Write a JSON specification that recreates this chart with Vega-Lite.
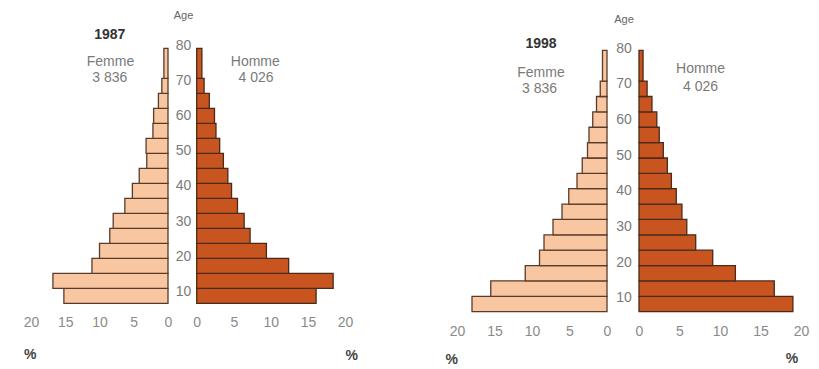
{
  "$schema": "https://vega.github.io/schema/vega-lite/v6.json",
  "width": 819,
  "height": 369,
  "padding": 0,
  "autosize": {"type": "none"},
  "background": "white",
  "config": {
    "view": {"stroke": null},
    "text": {"font": "Liberation Sans"},
    "axis": {"labelFont": "Liberation Sans", "grid": false}
  },
  "datasets": {
    "bars": [
      {"year": 1987, "sex": "Femme", "age_start": 0, "age_end": 5, "pct": 15.2},
      {"year": 1987, "sex": "Femme", "age_start": 5, "age_end": 10, "pct": 16.8},
      {"year": 1987, "sex": "Femme", "age_start": 10, "age_end": 15, "pct": 11.1},
      {"year": 1987, "sex": "Femme", "age_start": 15, "age_end": 20, "pct": 10.0},
      {"year": 1987, "sex": "Femme", "age_start": 20, "age_end": 25, "pct": 8.5},
      {"year": 1987, "sex": "Femme", "age_start": 25, "age_end": 30, "pct": 8.0},
      {"year": 1987, "sex": "Femme", "age_start": 30, "age_end": 35, "pct": 6.3},
      {"year": 1987, "sex": "Femme", "age_start": 35, "age_end": 40, "pct": 5.2},
      {"year": 1987, "sex": "Femme", "age_start": 40, "age_end": 45, "pct": 4.2},
      {"year": 1987, "sex": "Femme", "age_start": 45, "age_end": 50, "pct": 3.1},
      {"year": 1987, "sex": "Femme", "age_start": 50, "age_end": 55, "pct": 3.2},
      {"year": 1987, "sex": "Femme", "age_start": 55, "age_end": 60, "pct": 2.2},
      {"year": 1987, "sex": "Femme", "age_start": 60, "age_end": 65, "pct": 2.1},
      {"year": 1987, "sex": "Femme", "age_start": 65, "age_end": 70, "pct": 1.4},
      {"year": 1987, "sex": "Femme", "age_start": 70, "age_end": 75, "pct": 0.9},
      {"year": 1987, "sex": "Femme", "age_start": 75, "age_end": 85, "pct": 0.6},
      {"year": 1987, "sex": "Homme", "age_start": 0, "age_end": 5, "pct": 16.1},
      {"year": 1987, "sex": "Homme", "age_start": 5, "age_end": 10, "pct": 18.4},
      {"year": 1987, "sex": "Homme", "age_start": 10, "age_end": 15, "pct": 12.4},
      {"year": 1987, "sex": "Homme", "age_start": 15, "age_end": 20, "pct": 9.4},
      {"year": 1987, "sex": "Homme", "age_start": 20, "age_end": 25, "pct": 7.2},
      {"year": 1987, "sex": "Homme", "age_start": 25, "age_end": 30, "pct": 6.4},
      {"year": 1987, "sex": "Homme", "age_start": 30, "age_end": 35, "pct": 5.5},
      {"year": 1987, "sex": "Homme", "age_start": 35, "age_end": 40, "pct": 4.7},
      {"year": 1987, "sex": "Homme", "age_start": 40, "age_end": 45, "pct": 4.2},
      {"year": 1987, "sex": "Homme", "age_start": 45, "age_end": 50, "pct": 3.6},
      {"year": 1987, "sex": "Homme", "age_start": 50, "age_end": 55, "pct": 3.1},
      {"year": 1987, "sex": "Homme", "age_start": 55, "age_end": 60, "pct": 2.6},
      {"year": 1987, "sex": "Homme", "age_start": 60, "age_end": 65, "pct": 2.4},
      {"year": 1987, "sex": "Homme", "age_start": 65, "age_end": 70, "pct": 1.7},
      {"year": 1987, "sex": "Homme", "age_start": 70, "age_end": 75, "pct": 1.0},
      {"year": 1987, "sex": "Homme", "age_start": 75, "age_end": 85, "pct": 0.7},
      {"year": 1998, "sex": "Femme", "age_start": 0, "age_end": 5, "pct": 18.0},
      {"year": 1998, "sex": "Femme", "age_start": 5, "age_end": 10, "pct": 15.5},
      {"year": 1998, "sex": "Femme", "age_start": 10, "age_end": 15, "pct": 10.9},
      {"year": 1998, "sex": "Femme", "age_start": 15, "age_end": 20, "pct": 9.0},
      {"year": 1998, "sex": "Femme", "age_start": 20, "age_end": 25, "pct": 8.4},
      {"year": 1998, "sex": "Femme", "age_start": 25, "age_end": 30, "pct": 7.2},
      {"year": 1998, "sex": "Femme", "age_start": 30, "age_end": 35, "pct": 6.0},
      {"year": 1998, "sex": "Femme", "age_start": 35, "age_end": 40, "pct": 5.1},
      {"year": 1998, "sex": "Femme", "age_start": 40, "age_end": 45, "pct": 4.0},
      {"year": 1998, "sex": "Femme", "age_start": 45, "age_end": 50, "pct": 3.3},
      {"year": 1998, "sex": "Femme", "age_start": 50, "age_end": 55, "pct": 2.6},
      {"year": 1998, "sex": "Femme", "age_start": 55, "age_end": 60, "pct": 2.4},
      {"year": 1998, "sex": "Femme", "age_start": 60, "age_end": 65, "pct": 1.9},
      {"year": 1998, "sex": "Femme", "age_start": 65, "age_end": 70, "pct": 1.4},
      {"year": 1998, "sex": "Femme", "age_start": 70, "age_end": 75, "pct": 0.9},
      {"year": 1998, "sex": "Femme", "age_start": 75, "age_end": 85, "pct": 0.6},
      {"year": 1998, "sex": "Homme", "age_start": 0, "age_end": 5, "pct": 19.0},
      {"year": 1998, "sex": "Homme", "age_start": 5, "age_end": 10, "pct": 16.7},
      {"year": 1998, "sex": "Homme", "age_start": 10, "age_end": 15, "pct": 11.9},
      {"year": 1998, "sex": "Homme", "age_start": 15, "age_end": 20, "pct": 9.1},
      {"year": 1998, "sex": "Homme", "age_start": 20, "age_end": 25, "pct": 7.0},
      {"year": 1998, "sex": "Homme", "age_start": 25, "age_end": 30, "pct": 5.9},
      {"year": 1998, "sex": "Homme", "age_start": 30, "age_end": 35, "pct": 5.3},
      {"year": 1998, "sex": "Homme", "age_start": 35, "age_end": 40, "pct": 4.6},
      {"year": 1998, "sex": "Homme", "age_start": 40, "age_end": 45, "pct": 4.0},
      {"year": 1998, "sex": "Homme", "age_start": 45, "age_end": 50, "pct": 3.5},
      {"year": 1998, "sex": "Homme", "age_start": 50, "age_end": 55, "pct": 3.0},
      {"year": 1998, "sex": "Homme", "age_start": 55, "age_end": 60, "pct": 2.5},
      {"year": 1998, "sex": "Homme", "age_start": 60, "age_end": 65, "pct": 2.2},
      {"year": 1998, "sex": "Homme", "age_start": 65, "age_end": 70, "pct": 1.6},
      {"year": 1998, "sex": "Homme", "age_start": 70, "age_end": 75, "pct": 1.0},
      {"year": 1998, "sex": "Homme", "age_start": 75, "age_end": 85, "pct": 0.5}
    ],
    "notes": [
      {"year": 1987, "sex": "Femme", "role": "title", "text": "1987", "pct": 8.5, "age": 89.6},
      {"year": 1987, "sex": "Femme", "role": "label", "text": "Femme", "pct": 8.4, "age": 80.4},
      {"year": 1987, "sex": "Femme", "role": "label", "text": "3 836", "pct": 8.5, "age": 75.0},
      {"year": 1987, "sex": "Femme", "role": "unit", "text": "%", "pct": 20.1, "age": -17.2},
      {"year": 1987, "sex": "Homme", "role": "label", "text": "Homme", "pct": 7.9, "age": 80.3},
      {"year": 1987, "sex": "Homme", "role": "label", "text": "4 026", "pct": 8.0, "age": 75.0},
      {"year": 1987, "sex": "Homme", "role": "unit", "text": "%", "pct": 20.9, "age": -17.5},
      {"year": 1998, "sex": "Femme", "role": "title", "text": "1998", "pct": 8.8, "age": 87.1},
      {"year": 1998, "sex": "Femme", "role": "label", "text": "Femme", "pct": 8.8, "age": 77.8},
      {"year": 1998, "sex": "Femme", "role": "label", "text": "3 836", "pct": 9.0, "age": 72.4},
      {"year": 1998, "sex": "Femme", "role": "unit", "text": "%", "pct": 20.7, "age": -15.8},
      {"year": 1998, "sex": "Homme", "role": "label", "text": "Homme", "pct": 7.6, "age": 78.9},
      {"year": 1998, "sex": "Homme", "role": "label", "text": "4 026", "pct": 7.6, "age": 73.2},
      {"year": 1998, "sex": "Homme", "role": "unit", "text": "%", "pct": 18.9, "age": -15.4}
    ],
    "ages": [
      {"year": 1987, "age": 10, "text": "10"},
      {"year": 1987, "age": 20, "text": "20"},
      {"year": 1987, "age": 30, "text": "30"},
      {"year": 1987, "age": 40, "text": "40"},
      {"year": 1987, "age": 50, "text": "50"},
      {"year": 1987, "age": 60, "text": "60"},
      {"year": 1987, "age": 70, "text": "70"},
      {"year": 1987, "age": 80, "text": "80"},
      {"year": 1987, "age": 88.5, "text": "Age"},
      {"year": 1998, "age": 10, "text": "10"},
      {"year": 1998, "age": 20, "text": "20"},
      {"year": 1998, "age": 30, "text": "30"},
      {"year": 1998, "age": 40, "text": "40"},
      {"year": 1998, "age": 50, "text": "50"},
      {"year": 1998, "age": 60, "text": "60"},
      {"year": 1998, "age": 70, "text": "70"},
      {"year": 1998, "age": 80, "text": "80"},
      {"year": 1998, "age": 88.0, "text": "Age"}
    ]
  },
  "resolve": {"scale": {"x": "independent", "y": "independent"}, "axis": {"x": "independent", "y": "independent"}},
  "layer": [
    {
      "layer": [
        {
          "data": {"name": "bars"},
          "transform": [{"filter": "datum.year == 1987 && datum.sex == 'Femme'"}],
          "mark": {"type": "rect", "fill": "#F8C6A0", "stroke": "#5a3b2a", "strokeWidth": 1.3},
          "encoding": {
            "x": {"field": "pct", "type": "quantitative", "scale": {"domain": [0, 20], "range": [168, 31]},
              "axis": {"orient": "bottom", "offset": -65.7, "values": [0, 5, 10, 15, 20], "domain": false, "ticks": false, "tickSize": 0, "labelPadding": 12, "labelFontSize": 14, "labelColor": "#8a8a8a", "title": null, "labelFlush": false, "labelOverlap": false}},
            "x2": {"datum": 0},
            "y": {"field": "age_start", "type": "quantitative", "scale": {"domain": [0, 85], "range": [303.3, 33.3]}, "axis": null},
            "y2": {"field": "age_end"}
          }
        },
        {
          "data": {"name": "notes"},
          "transform": [{"filter": "datum.year == 1987 && datum.sex == 'Femme' && datum.role == 'title'"}],
          "mark": {"type": "text", "fontSize": 14, "fontWeight": "bold", "color": "#333333"},
          "encoding": {"x": {"field": "pct", "type": "quantitative"}, "y": {"field": "age", "type": "quantitative"}, "text": {"field": "text"}}
        },
        {
          "data": {"name": "notes"},
          "transform": [{"filter": "datum.year == 1987 && datum.sex == 'Femme' && datum.role == 'label'"}],
          "mark": {"type": "text", "fontSize": 14, "color": "#7a7a7a"},
          "encoding": {"x": {"field": "pct", "type": "quantitative"}, "y": {"field": "age", "type": "quantitative"}, "text": {"field": "text"}}
        },
        {
          "data": {"name": "notes"},
          "transform": [{"filter": "datum.year == 1987 && datum.sex == 'Femme' && datum.role == 'unit'"}],
          "mark": {"type": "text", "fontSize": 14, "fontWeight": "bold", "color": "#444444"},
          "encoding": {"x": {"field": "pct", "type": "quantitative"}, "y": {"field": "age", "type": "quantitative"}, "text": {"field": "text"}}
        }
      ]
    },
    {
      "layer": [
        {
          "data": {"name": "bars"},
          "transform": [{"filter": "datum.year == 1987 && datum.sex == 'Homme'"}],
          "mark": {"type": "rect", "fill": "#C8541F", "stroke": "#4a2a18", "strokeWidth": 1.3},
          "encoding": {
            "x": {"field": "pct", "type": "quantitative", "scale": {"domain": [0, 20], "range": [196.7, 345]},
              "axis": {"orient": "bottom", "offset": -65.7, "values": [0, 5, 10, 15, 20], "domain": false, "ticks": false, "tickSize": 0, "labelPadding": 12, "labelFontSize": 14, "labelColor": "#8a8a8a", "title": null, "labelFlush": false, "labelOverlap": false}},
            "x2": {"datum": 0},
            "y": {"field": "age_start", "type": "quantitative", "scale": {"domain": [0, 85], "range": [303.3, 33.3]}, "axis": null},
            "y2": {"field": "age_end"}
          }
        },
        {
          "data": {"name": "notes"},
          "transform": [{"filter": "datum.year == 1987 && datum.sex == 'Homme' && datum.role == 'label'"}],
          "mark": {"type": "text", "fontSize": 14, "color": "#7a7a7a"},
          "encoding": {"x": {"field": "pct", "type": "quantitative"}, "y": {"field": "age", "type": "quantitative"}, "text": {"field": "text"}}
        },
        {
          "data": {"name": "notes"},
          "transform": [{"filter": "datum.year == 1987 && datum.sex == 'Homme' && datum.role == 'unit'"}],
          "mark": {"type": "text", "fontSize": 14, "fontWeight": "bold", "color": "#444444"},
          "encoding": {"x": {"field": "pct", "type": "quantitative"}, "y": {"field": "age", "type": "quantitative"}, "text": {"field": "text"}}
        }
      ]
    },
    {
      "layer": [
        {
          "data": {"name": "bars"},
          "transform": [{"filter": "datum.year == 1998 && datum.sex == 'Femme'"}],
          "mark": {"type": "rect", "fill": "#F8C6A0", "stroke": "#5a3b2a", "strokeWidth": 1.3},
          "encoding": {
            "x": {"field": "pct", "type": "quantitative", "scale": {"domain": [0, 20], "range": [607, 457]},
              "axis": {"orient": "bottom", "offset": -57.3, "values": [0, 5, 10, 15, 20], "domain": false, "ticks": false, "tickSize": 0, "labelPadding": 13, "labelFontSize": 14, "labelColor": "#8a8a8a", "title": null, "labelFlush": false, "labelOverlap": false}},
            "x2": {"datum": 0},
            "y": {"field": "age_start", "type": "quantitative", "scale": {"domain": [0, 85], "range": [311.7, 35]}, "axis": null},
            "y2": {"field": "age_end"}
          }
        },
        {
          "data": {"name": "notes"},
          "transform": [{"filter": "datum.year == 1998 && datum.sex == 'Femme' && datum.role == 'title'"}],
          "mark": {"type": "text", "fontSize": 14, "fontWeight": "bold", "color": "#333333"},
          "encoding": {"x": {"field": "pct", "type": "quantitative"}, "y": {"field": "age", "type": "quantitative"}, "text": {"field": "text"}}
        },
        {
          "data": {"name": "notes"},
          "transform": [{"filter": "datum.year == 1998 && datum.sex == 'Femme' && datum.role == 'label'"}],
          "mark": {"type": "text", "fontSize": 14, "color": "#7a7a7a"},
          "encoding": {"x": {"field": "pct", "type": "quantitative"}, "y": {"field": "age", "type": "quantitative"}, "text": {"field": "text"}}
        },
        {
          "data": {"name": "notes"},
          "transform": [{"filter": "datum.year == 1998 && datum.sex == 'Femme' && datum.role == 'unit'"}],
          "mark": {"type": "text", "fontSize": 14, "fontWeight": "bold", "color": "#444444"},
          "encoding": {"x": {"field": "pct", "type": "quantitative"}, "y": {"field": "age", "type": "quantitative"}, "text": {"field": "text"}}
        }
      ]
    },
    {
      "layer": [
        {
          "data": {"name": "bars"},
          "transform": [{"filter": "datum.year == 1998 && datum.sex == 'Homme'"}],
          "mark": {"type": "rect", "fill": "#C8541F", "stroke": "#4a2a18", "strokeWidth": 1.3},
          "encoding": {
            "x": {"field": "pct", "type": "quantitative", "scale": {"domain": [0, 20], "range": [639, 801]},
              "axis": {"orient": "bottom", "offset": -57.3, "values": [0, 5, 10, 15, 20], "domain": false, "ticks": false, "tickSize": 0, "labelPadding": 13, "labelFontSize": 14, "labelColor": "#8a8a8a", "title": null, "labelFlush": false, "labelOverlap": false}},
            "x2": {"datum": 0},
            "y": {"field": "age_start", "type": "quantitative", "scale": {"domain": [0, 85], "range": [311.7, 35]}, "axis": null},
            "y2": {"field": "age_end"}
          }
        },
        {
          "data": {"name": "notes"},
          "transform": [{"filter": "datum.year == 1998 && datum.sex == 'Homme' && datum.role == 'label'"}],
          "mark": {"type": "text", "fontSize": 14, "color": "#7a7a7a"},
          "encoding": {"x": {"field": "pct", "type": "quantitative"}, "y": {"field": "age", "type": "quantitative"}, "text": {"field": "text"}}
        },
        {
          "data": {"name": "notes"},
          "transform": [{"filter": "datum.year == 1998 && datum.sex == 'Homme' && datum.role == 'unit'"}],
          "mark": {"type": "text", "fontSize": 14, "fontWeight": "bold", "color": "#444444"},
          "encoding": {"x": {"field": "pct", "type": "quantitative"}, "y": {"field": "age", "type": "quantitative"}, "text": {"field": "text"}}
        }
      ]
    },
    {
      "layer": [
        {
          "data": {"name": "ages"},
          "transform": [{"filter": "datum.year == 1987 && datum.text != 'Age'"}],
          "mark": {"type": "text", "fontSize": 14, "color": "#7a7a7a"},
          "encoding": {
            "x": {"field": "year", "type": "ordinal", "scale": {"type": "point", "domain": [1987, 1998], "range": [183.5, 624], "padding": 0}, "axis": null},
            "y": {"field": "age", "type": "quantitative", "scale": {"domain": [10, 80], "range": [291.7, 46]}, "axis": null},
            "text": {"field": "text"}
          }
        },
        {
          "data": {"name": "ages"},
          "transform": [{"filter": "datum.year == 1987 && datum.text == 'Age'"}],
          "mark": {"type": "text", "fontSize": 11, "color": "#666666"},
          "encoding": {
            "x": {"field": "year", "type": "ordinal"},
            "y": {"field": "age", "type": "quantitative"},
            "text": {"field": "text"}
          }
        }
      ]
    },
    {
      "layer": [
        {
          "data": {"name": "ages"},
          "transform": [{"filter": "datum.year == 1998 && datum.text != 'Age'"}],
          "mark": {"type": "text", "fontSize": 14, "color": "#7a7a7a"},
          "encoding": {
            "x": {"field": "year", "type": "ordinal", "scale": {"type": "point", "domain": [1987, 1998], "range": [183.5, 624], "padding": 0}, "axis": null},
            "y": {"field": "age", "type": "quantitative", "scale": {"domain": [10, 80], "range": [298.3, 48.5]}, "axis": null},
            "text": {"field": "text"}
          }
        },
        {
          "data": {"name": "ages"},
          "transform": [{"filter": "datum.year == 1998 && datum.text == 'Age'"}],
          "mark": {"type": "text", "fontSize": 11, "color": "#666666"},
          "encoding": {
            "x": {"field": "year", "type": "ordinal"},
            "y": {"field": "age", "type": "quantitative"},
            "text": {"field": "text"}
          }
        }
      ]
    }
  ]
}
